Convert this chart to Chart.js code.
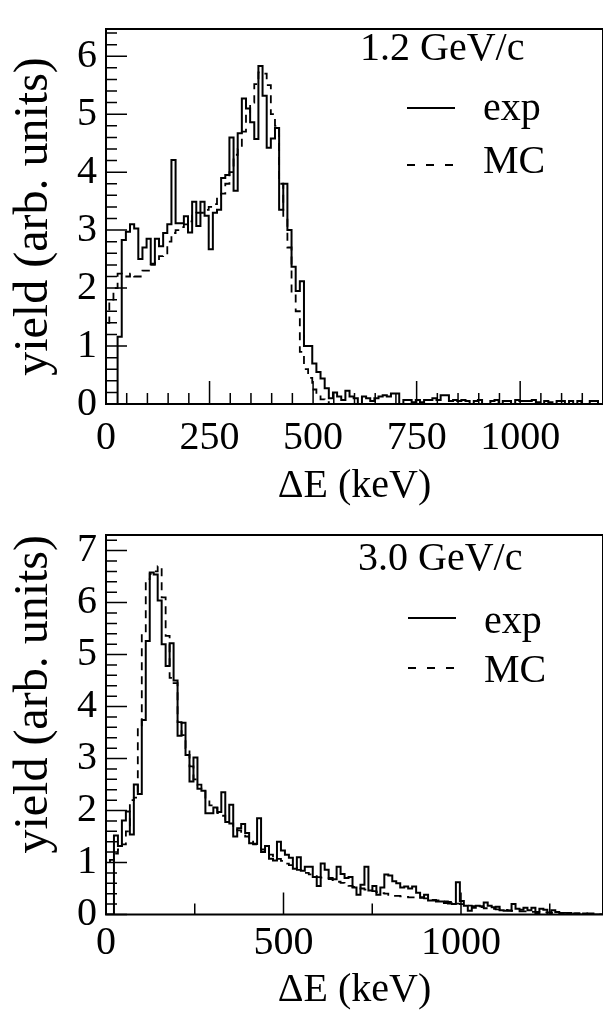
<!DOCTYPE html>
<html>
<head>
<meta charset="utf-8">
<script src="https://cdn.jsdelivr.net/npm/chart.js@4/dist/chart.umd.min.js"></script>
<style>
html, body { margin: 0; padding: 0; background: #fff; }
canvas { position: absolute; left: 0; }
#top { top: 0; }
#bottom { top: 506px; }
</style>
</head>
<body>
<canvas id="top" width="603" height="506"></canvas>
<canvas id="bottom" width="603" height="506"></canvas>
<script>
// histogram binning (keV)
const topBinStart = -2;
const topBinWidth = 10;
const bottomBinStart = 0;
const bottomBinWidth = 11.2;

// 1.2 GeV/c : yields, one value per bin
const topExp = [
  0, 0, 0, 0, 1.16, 2.83, 2.97, 3.1, 3.03, 2.5,
  2.7, 2.85, 2.42, 2.85, 2.72, 2.95, 3.1, 4.21, 3.12, 3.12,
  3.24, 2.96, 3.49, 3.07, 3.49, 3.25, 2.67, 3.3, 3.35, 3.9,
  3.95, 4.6, 3.68, 4.67, 5.27, 5.1, 4.86, 4.57, 5.83, 5.32,
  4.42, 4.58, 4.76, 3.35, 3.8, 3.0, 2.37, 1.95, 2.12, 1.0,
  1.0, 0.7, 0.55, 0.44, 0.27, 0.1, 0.2, 0.13, 0.07, 0.23,
  0.13, 0.1, 0, 0.13, 0.1, 0.05, 0.1, 0.13, 0.15, 0.13,
  0.18, 0.18, 0, 0.07, 0.07, 0.03, 0.07, 0.03, 0.07, 0.07,
  0.1, 0.07, 0.15, 0.15, 0.05, 0.07, 0.05, 0.07, 0.05, 0,
  0.05, 0.07, 0, 0, 0.05, 0.07, 0, 0.05, 0.05, 0,
  0.07, 0.05, 0.05, 0.05, 0.07, 0.03, 0, 0.05, 0.03, 0,
  0.05, 0.05, 0, 0.05, 0, 0.05, 0, 0, 0.05, 0.05
];
const topMC = [
  1.2, 1.4, 1.8, 2.0, 2.25, 2.2, 2.2, 2.25, 2.2, 2.2,
  2.3, 2.3, 2.4, 2.45, 2.55, 2.6, 2.8, 2.95, 3.0, 3.05,
  3.1, 3.15, 3.25, 3.3, 3.3, 3.35, 3.4, 3.45, 3.6, 3.63,
  3.8, 4.0, 4.3, 4.4, 4.7, 5.0, 5.2, 5.52, 5.72, 5.7,
  5.5, 5.0, 4.8, 3.8, 3.2, 2.7, 1.9, 1.6, 0.9, 0.6,
  0.45, 0.25, 0.15, 0.08, 0.03, 0, 0, 0, 0, 0,
  0, 0, 0, 0, 0, 0, 0, 0, 0, 0,
  0, 0, 0, 0, 0, 0, 0, 0, 0, 0,
  0, 0, 0, 0, 0, 0, 0, 0, 0, 0,
  0, 0, 0, 0, 0, 0, 0, 0, 0, 0,
  0, 0, 0, 0, 0, 0, 0, 0, 0, 0,
  0, 0, 0, 0, 0, 0, 0, 0, 0, 0
];

// 3.0 GeV/c
const bottomExp = [
  0, 0, 0, 1.52, 1.32, 1.81, 1.98, 1.54, 2.5, 2.32,
  3.74, 5.26, 6.58, 6.54, 6.04, 5.2, 4.78, 5.22, 4.5, 3.44,
  3.69, 3.07, 2.56, 3.02, 2.42, 2.38, 1.95, 1.95, 2.06, 1.97,
  2.35, 1.78, 2.11, 1.5, 1.66, 1.74, 1.57, 1.37, 1.36, 1.85,
  1.2, 1.32, 1.07, 1.04, 1.4, 1.23, 1.15, 1.09, 0.88, 1.1,
  0.84, 0.92, 0.92, 0.72, 0.55, 0.98, 0.86, 0.7, 0.68, 0.92,
  0.78, 0.7, 0.72, 0.52, 0.38, 0.57, 0.92, 0.46, 0.55, 0.38,
  0.52, 0.77, 0.75, 0.64, 0.6, 0.52, 0.54, 0.5, 0.54, 0.42,
  0.33, 0.38, 0.27, 0.27, 0.25, 0.25, 0.22, 0.21, 0.2, 0.62,
  0.26, 0.17, 0.07, 0.13, 0.17, 0.16, 0.23, 0.17, 0.14, 0.15,
  0.08, 0.07, 0.07, 0.2, 0.11, 0.09, 0.13, 0.08, 0.13, 0.03,
  0.11, 0.09, 0, 0.08, 0.05, 0.03, 0, 0.03, 0, 0.02,
  0, 0.02, 0, 0, 0
];
const bottomMC = [
  0.75, 0.95, 1.05, 1.17, 1.25, 1.35, 1.6, 2.2, 2.25, 3.6,
  5.4, 6.45, 6.55, 6.6, 6.7, 6.1, 5.36, 4.55, 4.45, 3.7,
  3.45, 3.2, 2.85, 2.6, 2.5, 2.37, 2.2, 2.1, 2.05, 1.95,
  1.9, 1.8, 1.75, 1.68, 1.62, 1.55, 1.5, 1.42, 1.35, 1.3,
  1.25, 1.2, 1.15, 1.1, 1.07, 1.03, 0.98, 0.95, 0.9, 0.86,
  0.83, 0.8, 0.77, 0.74, 0.72, 0.71, 0.7, 0.68, 0.66, 0.63,
  0.61, 0.58, 0.55, 0.53, 0.52, 0.5, 0.48, 0.46, 0.45, 0.43,
  0.41, 0.4, 0.38, 0.36, 0.36, 0.35, 0.34, 0.33, 0.33, 0.33,
  0.32, 0.31, 0.29, 0.28, 0.27, 0.26, 0.25, 0.24, 0.22, 0.21,
  0.2, 0.19, 0.17, 0.16, 0.15, 0.14, 0.12, 0.11, 0.11, 0.1,
  0.09, 0.09, 0.08, 0.07, 0.07, 0.06, 0.06, 0.05, 0.05, 0.05,
  0.04, 0.04, 0.04, 0.03, 0.03, 0.03, 0.03, 0.03, 0.02, 0.02,
  0.02, 0.02, 0.02, 0.02, 0.01
];

// tick labels
const topXLabels = [0, 250, 500, 750, 1000];
const topYLabels = [0, 1, 2, 3, 4, 5, 6];
const bottomXLabels = [0, 500, 1000];
const bottomYLabels = [0, 1, 2, 3, 4, 5, 6, 7];

Chart.defaults.font.family = '"Liberation Serif", "DejaVu Serif", serif';
Chart.defaults.color = '#000';

// bins -> points for a stepped outline that starts and ends on the baseline
function histPoints(start, width, values) {
  const pts = [{ x: start, y: 0 }];
  values.forEach((v, i) => pts.push({ x: start + i * width, y: v }));
  pts.push({ x: start + values.length * width, y: 0 });
  return pts;
}

// ROOT-like frame, inward ticks, label and legend
const frameAndTicks = {
  id: 'frameAndTicks',
  afterDatasetsDraw(chart, args, o) {
    const ctx = chart.ctx;
    const a = chart.chartArea;
    const xs = chart.scales.x;
    const ys = chart.scales.y;
    ctx.save();
    ctx.strokeStyle = '#000';
    ctx.lineWidth = 1.5;
    ctx.beginPath();
    for (let i = 0; i * o.xMinor <= xs.max; i++) {
      const v = i * o.xMinor;
      const px = xs.getPixelForValue(v);
      const len = (v % o.xMajor === 0) ? o.xMajorLen : o.xMinorLen;
      ctx.moveTo(px, a.bottom);
      ctx.lineTo(px, a.bottom - len);
    }
    for (let i = 0; i * o.yMinor <= ys.max + 1e-9; i++) {
      const py = ys.getPixelForValue(i * o.yMinor);
      const len = (i % Math.round(1 / o.yMinor) === 0) ? 21 : 11;
      ctx.moveTo(a.left, py);
      ctx.lineTo(a.left + len, py);
    }
    ctx.stroke();

    ctx.lineWidth = 2;
    ctx.strokeRect(a.left, a.top, a.right - a.left, a.bottom - a.top);

    ctx.fillStyle = '#000';
    ctx.font = '40px "Liberation Serif"';
    ctx.textAlign = 'left';
    ctx.textBaseline = 'alphabetic';
    ctx.fillText(o.title, o.titleX, o.titleY);

    chart.data.datasets.forEach((ds, i) => {
      const ly = o.lineY[i];
      ctx.lineWidth = 1.8;
      ctx.setLineDash(i === 0 ? [] : [8, 11]);
      ctx.beginPath();
      ctx.moveTo(o.legendX, ly);
      ctx.lineTo(o.legendX + 48, ly);
      ctx.stroke();
      ctx.setLineDash([]);
      ctx.fillText(ds.label, o.legendTextX, o.textY[i]);
    });
    ctx.restore();
  }
};

function makeChart(id, c) {
  return new Chart(document.getElementById(id), {
    type: 'line',
    data: {
      datasets: [
        {
          label: 'exp',
          data: histPoints(c.binStart, c.binWidth, c.exp),
          borderColor: '#000',
          borderWidth: 2,
          stepped: 'after',
          pointRadius: 0,
          fill: false
        },
        {
          label: 'MC',
          data: histPoints(c.binStart, c.binWidth, c.mc),
          borderColor: '#000',
          borderWidth: 1.8,
          borderDash: [8, 6],
          stepped: 'after',
          pointRadius: 0,
          fill: false
        }
      ]
    },
    options: {
      responsive: false,
      animation: false,
      layout: { padding: { top: c.padTop, right: 0, left: 0, bottom: 0 } },
      plugins: {
        legend: { display: false },
        tooltip: { enabled: false },
        frameAndTicks: c.deco
      },
      scales: {
        x: {
          type: 'linear',
          min: 0,
          max: c.xMax,
          grid: { display: false, drawTicks: false },
          border: { display: false },
          afterBuildTicks: s => { s.ticks = c.xLabels.map(v => ({ value: v })); },
          ticks: {
            autoSkip: false, maxRotation: 0, padding: c.xPad,
            font: { size: 40, lineHeight: 1 },
            callback: v => String(v)
          },
          title: {
            display: true,
            text: 'ΔE (keV)',
            font: { size: 40, lineHeight: 1 },
            padding: { top: 0, bottom: c.xTitlePad }
          },
          afterFit: s => { s.height = c.xAxisH; }
        },
        y: {
          min: 0,
          max: c.yMax,
          grid: { display: false, drawTicks: false },
          border: { display: false },
          afterBuildTicks: s => { s.ticks = c.yLabels.map(v => ({ value: v })); },
          ticks: {
            autoSkip: false, padding: 9,
            font: { size: 40, lineHeight: 1 },
            callback: v => String(v)
          },
          title: {
            display: true,
            text: 'yield (arb. units)',
            align: c.yTitleAlign,
            font: { size: 48, lineHeight: 1 },
            padding: { top: 10, bottom: 0 }
          },
          afterFit: s => { s.width = 106; }
        }
      }
    },
    plugins: [frameAndTicks]
  });
}

makeChart('top', {
  binStart: topBinStart, binWidth: topBinWidth, exp: topExp, mc: topMC,
  xMax: 1200, yMax: 6.47, xLabels: topXLabels, yLabels: topYLabels,
  padTop: 10, xAxisH: 102, xPad: 14, xTitlePad: 0, yTitleAlign: 'center',
  deco: {
    xMinor: 50, xMajor: 250, xMajorLen: 23, xMinorLen: 11, yMinor: 0.2,
    title: '1.2 GeV/c', titleX: 360, titleY: 60,
    legendX: 407, legendTextX: 483, lineY: [108, 165], textY: [120, 173]
  }
});

makeChart('bottom', {
  binStart: bottomBinStart, binWidth: bottomBinWidth, exp: bottomExp, mc: bottomMC,
  xMax: 1400, yMax: 7.3, xLabels: bottomXLabels, yLabels: bottomYLabels,
  padTop: 14, xAxisH: 97.5, xPad: 9, xTitlePad: 2, yTitleAlign: 'end',
  deco: {
    xMinor: 250, xMajor: 500, xMajorLen: 22, xMinorLen: 11, yMinor: 0.2,
    title: '3.0 GeV/c', titleX: 358, titleY: 64,
    legendX: 408, legendTextX: 484, lineY: [112, 162], textY: [127, 176]
  }
});
</script>
</body>
</html>
